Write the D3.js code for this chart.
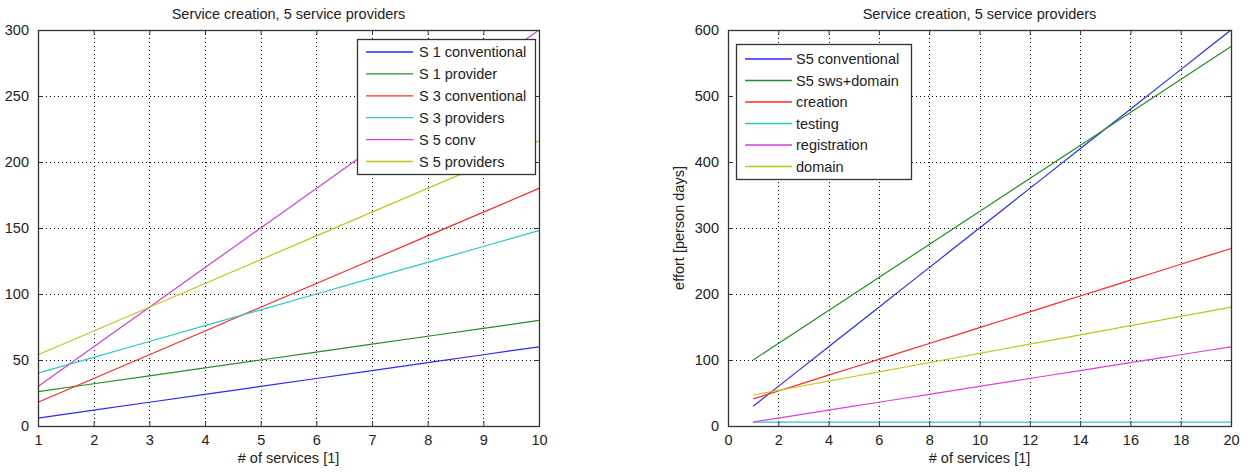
<!DOCTYPE html>
<html>
<head>
<meta charset="utf-8">
<script src="https://cdn.jsdelivr.net/npm/d3@7"></script>
<style>
  body { margin: 0; background: #fff; }
  text { font-family: "Liberation Sans", Arial, sans-serif; fill: #222; }
</style>
</head>
<body>
<div id="chart"></div>
<script>
// ---- data, left panel ----
var leftX = [1, 2, 3, 4, 5, 6, 7, 8, 9, 10];
var leftNames = ["S 1 conventional", "S 1 provider", "S 3 conventional", "S 3 providers", "S 5 conv", "S 5 providers"];
var s1Conv = [6, 12, 18, 24, 30, 36, 42, 48, 54, 60];
var s1Prov = [26, 32, 38, 44, 50, 56, 62, 68, 74, 80];
var s3Conv = [18, 36, 54, 72, 90, 108, 126, 144, 162, 180];
var s3Prov = [40, 52, 64, 76, 88, 100, 112, 124, 136, 148];
var s5Conv = [30, 60, 90, 120, 150, 180, 210, 240, 270, 300];
var s5Prov = [54, 72, 90, 108, 126, 144, 162, 180, 198, 216];
var leftXTicks = [1, 2, 3, 4, 5, 6, 7, 8, 9, 10];
var leftYTicks = [0, 50, 100, 150, 200, 250, 300];

// ---- data, right panel ----
var rightX = [1, 2, 3, 4, 5, 6, 7, 8, 9, 10, 11, 12, 13, 14, 15, 16, 17, 18, 19, 20];
var rightNames = ["S5 conventional", "S5 sws+domain", "creation", "testing", "registration", "domain"];
var s5Conventional = [30, 60, 90, 120, 150, 180, 210, 240, 270, 300, 330, 360, 390, 420, 450, 480, 510, 540, 570, 600];
var s5SwsDomain = [100, 125, 150, 175, 200, 225, 250, 275, 300, 325, 350, 375, 400, 425, 450, 475, 500, 525, 550, 575];
var creation = [41, 53, 65, 77, 89, 101, 113, 125, 137, 149, 161, 173, 185, 197, 209, 221, 233, 245, 257, 269];
var testing = [6, 6, 6, 6, 6, 6, 6, 6, 6, 6, 6, 6, 6, 6, 6, 6, 6, 6, 6, 6];
var registration = [6, 12, 18, 24, 30, 36, 42, 48, 54, 60, 66, 72, 78, 84, 90, 96, 102, 108, 114, 120];
var domain = [47, 54, 61, 68, 75, 82, 89, 96, 103, 110, 117, 124, 131, 138, 145, 152, 159, 166, 173, 180];
var rightXTicks = [0, 2, 4, 6, 8, 10, 12, 14, 16, 18, 20];
var rightYTicks = [0, 100, 200, 300, 400, 500, 600];

var colors = ["#2828ff", "#229022", "#ff2a2a", "#2cc8c8", "#dd3ddd", "#c4c41c"];

var W = 1251, H = 472;
var svg = d3.select("#chart").append("svg")
	.attr("width", W)
	.attr("height", H);

function panel(opt) {
	var x = d3.scaleLinear().domain(opt.xDomain).range([opt.left, opt.right]);
	var y = d3.scaleLinear().domain(opt.yDomain).range([opt.bottom, opt.top]);
	var g = svg.append("g");

	// dotted grid
	g.selectAll(".gx").data(opt.xTicks).enter().append("line")
		.attr("x1", function(d) { return Math.round(x(d)) + 0.5; })
		.attr("x2", function(d) { return Math.round(x(d)) + 0.5; })
		.attr("y1", opt.top).attr("y2", opt.bottom)
		.style("stroke", "#000").style("stroke-dasharray", "1,3").style("stroke-width", 1);
	g.selectAll(".gy").data(opt.yTicks).enter().append("line")
		.attr("y1", function(d) { return Math.round(y(d)) + 0.5; })
		.attr("y2", function(d) { return Math.round(y(d)) + 0.5; })
		.attr("x1", opt.left).attr("x2", opt.right)
		.style("stroke", "#000").style("stroke-dasharray", "1,3").style("stroke-width", 1);

	// series
	var line = d3.line()
		.x(function(d) { return x(d[0]); })
		.y(function(d) { return y(d[1]); });
	opt.series.forEach(function(s, i) {
		var pts = opt.xs.map(function(v, j) { return [v, s[j]]; });
		g.append("path")
			.attr("d", line(pts))
			.style("fill", "none")
			.style("stroke", colors[i])
			.style("stroke-width", 1.2);
	});

	// axes: ticks inside, on all four sides
	var tickLen = 5;
	var bottomAx = d3.axisBottom(x).tickValues(opt.xTicks).tickSize(-tickLen).tickPadding(9).tickFormat(d3.format("d"));
	var topAx = d3.axisTop(x).tickValues(opt.xTicks).tickSize(-tickLen).tickFormat("");
	var leftAx = d3.axisLeft(y).tickValues(opt.yTicks).tickSize(-tickLen).tickPadding(9).tickFormat(d3.format("d"));
	var rightAx = d3.axisRight(y).tickValues(opt.yTicks).tickSize(-tickLen).tickFormat("");

	var axes = [
		g.append("g").attr("transform", "translate(0," + opt.bottom + ")").call(bottomAx),
		g.append("g").attr("transform", "translate(0," + opt.top + ")").call(topAx),
		g.append("g").attr("transform", "translate(" + opt.left + ",0)").call(leftAx),
		g.append("g").attr("transform", "translate(" + opt.right + ",0)").call(rightAx)
	];
	axes.forEach(function(a) {
		a.select(".domain").remove();
		a.selectAll("line").style("stroke", "#333");
		a.selectAll("text").style("font-size", "14.5px").style("fill", "#222")
			.style("font-family", "'Liberation Sans', Arial, sans-serif");
	});

	// box
	g.append("rect")
		.attr("x", opt.left + 0.5).attr("y", opt.top + 0.5)
		.attr("width", opt.right - opt.left).attr("height", opt.bottom - opt.top)
		.style("fill", "none").style("stroke", "#333").style("stroke-width", 1.3);

	// title and labels
	g.append("text")
		.attr("x", (opt.left + opt.right) / 2).attr("y", 19)
		.attr("text-anchor", "middle").style("font-size", "14.5px")
		.text(opt.title);
	g.append("text")
		.attr("x", (opt.left + opt.right) / 2).attr("y", 463)
		.attr("text-anchor", "middle").style("font-size", "14.5px")
		.text(opt.xLabel);
	if (opt.yLabel) {
		g.append("text")
			.attr("transform", "translate(" + (opt.left - 44) + "," + ((opt.top + opt.bottom) / 2) + ") rotate(-90)")
			.attr("text-anchor", "middle").style("font-size", "14.5px")
			.text(opt.yLabel);
	}

	// legend
	var lg = opt.legend;
	var leg = g.append("g");
	leg.append("rect")
		.attr("x", lg.x + 0.5).attr("y", lg.y + 0.5)
		.attr("width", lg.w).attr("height", lg.h)
		.style("fill", "#fff").style("stroke", "#333").style("stroke-width", 1.3);
	opt.names.forEach(function(n, i) {
		var yy = lg.y + lg.first + i * lg.step;
		leg.append("line")
			.attr("x1", lg.x + lg.l1).attr("x2", lg.x + lg.l2)
			.attr("y1", yy).attr("y2", yy)
			.style("stroke", colors[i]).style("stroke-width", 1.3);
		leg.append("text")
			.attr("x", lg.x + lg.tx).attr("y", yy + 5)
			.style("font-size", "14.5px")
			.text(n);
	});
}

panel({
	left: 38, right: 539, top: 30, bottom: 426,
	xDomain: [1, 10], yDomain: [0, 300],
	xTicks: leftXTicks, yTicks: leftYTicks,
	xs: leftX,
	series: [s1Conv, s1Prov, s3Conv, s3Prov, s5Conv, s5Prov],
	names: leftNames,
	title: "Service creation, 5 service providers",
	xLabel: "# of services [1]",
	legend: { x: 357, y: 39, w: 178, h: 135, first: 13, step: 21.9, l1: 9, l2: 56, tx: 62 }
});

panel({
	left: 728, right: 1231, top: 30, bottom: 426,
	xDomain: [0, 20], yDomain: [0, 600],
	xTicks: rightXTicks, yTicks: rightYTicks,
	xs: rightX,
	series: [s5Conventional, s5SwsDomain, creation, testing, registration, domain],
	names: rightNames,
	title: "Service creation, 5 service providers",
	xLabel: "# of services [1]",
	yLabel: "effort [person days]",
	legend: { x: 736, y: 44, w: 175, h: 135, first: 15, step: 21.5, l1: 9, l2: 56, tx: 60 }
});
</script>
</body>
</html>
